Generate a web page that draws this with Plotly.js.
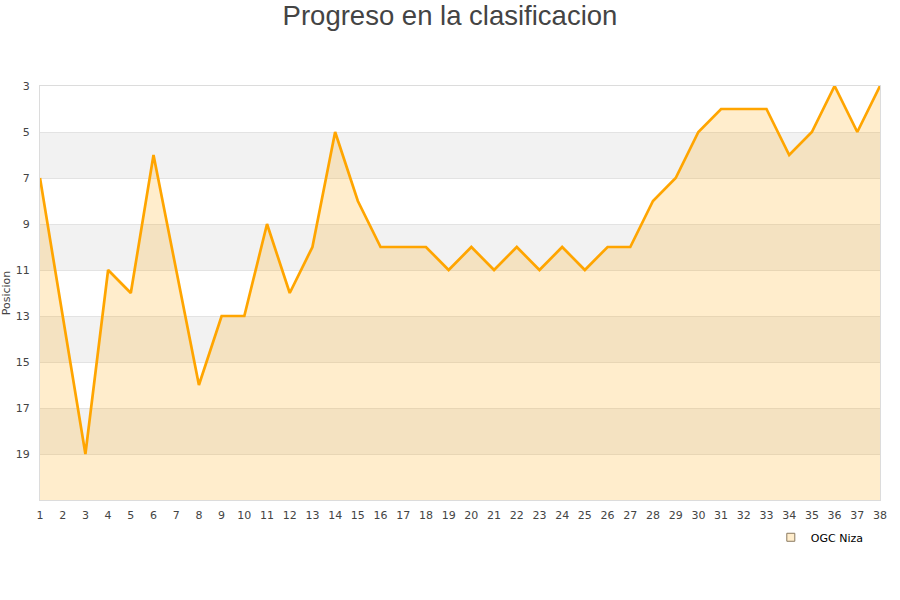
<!DOCTYPE html>
<html>
<head>
<meta charset="utf-8">
<script src="https://cdn.plot.ly/plotly-3.0.1.min.js"></script>
<style>html,body{margin:0;padding:0;background:#fff}#chart{width:900px;height:600px}</style>
</head>
<body>
<div id="chart"></div>
<script>
const jornadas = [1,2,3,4,5,6,7,8,9,10,11,12,13,14,15,16,17,18,19,20,21,22,23,24,25,26,27,28,29,30,31,32,33,34,35,36,37,38];
const posicion = [7,13,19,11,12,6,11,16,13,13,9,12,10,5,8,10,10,10,11,10,11,10,11,10,11,10,10,8,7,5,4,4,4,6,5,3,5,3];
const yTicks = [3,5,7,9,11,13,15,17,19];
const bandas = [[5,7],[9,11],[13,15],[17,19]];
const equipo = 'OGC Niza';
const fondo = 21;

const shapes = bandas.map(b => ({
  type:'rect', xref:'paper', yref:'y', x0:0, x1:1, y0:b[0], y1:b[1],
  fillcolor:'#f2f2f2', line:{width:0}, layer:'below'
}));

const traces = [
  {x:jornadas, y:jornadas.map(()=>fondo), mode:'lines', line:{width:0}, hoverinfo:'skip', showlegend:false},
  {x:jornadas, y:posicion, mode:'lines', fill:'tonexty', fillcolor:'rgba(255,165,0,0.2)',
   line:{color:'#ffa500', width:2.7}, showlegend:false, name:equipo},
  {x:[null], y:[null], mode:'markers', name:equipo,
   marker:{symbol:'square', size:8, color:'#ffedcc', line:{color:'#8a7a60', width:1}}}
];

const layout = {
  width:900, height:600,
  margin:{l:40, r:20, t:86, b:100},
  paper_bgcolor:'#fff', plot_bgcolor:'rgba(0,0,0,0)',
  title:{text:'Progreso en la clasificacion', x:0.5, xanchor:'center', yref:'container', y:0.975, yanchor:'middle',
         font:{family:'Liberation Sans, Arial, sans-serif', size:27.5, color:'#444'}},
  xaxis:{range:[1,38], tickvals:jornadas, ticktext:jornadas.map(String), showgrid:false, zeroline:false,
         showline:true, linecolor:'#dcdcdc', linewidth:1, mirror:true, ticks:'', ticklabelstandoff:5,
         tickfont:{family:'DejaVu Sans, sans-serif', size:11, color:'#444'}},
  yaxis:{range:[fondo,3], tickvals:yTicks, ticktext:yTicks.map(String), showgrid:true, gridcolor:'#e3e3e3',
         zeroline:false, showline:true, linecolor:'#dcdcdc', linewidth:1, mirror:true, ticks:'', ticklabelstandoff:7,
         tickfont:{family:'DejaVu Sans, sans-serif', size:11, color:'#444'},
         title:{text:'Posicion', standoff:2, font:{family:'DejaVu Sans, sans-serif', size:11, color:'#444'}}},
  shapes:shapes,
  showlegend:true,
  legend:{x:0.870, xanchor:'left', y:-0.055, yanchor:'top', bgcolor:'rgba(0,0,0,0)',
          font:{family:'DejaVu Sans, sans-serif', size:11, color:'#000'}, itemwidth:30}
};

Plotly.newPlot('chart', traces, layout, {displayModeBar:false, staticPlot:true});
</script>
</body>
</html>
